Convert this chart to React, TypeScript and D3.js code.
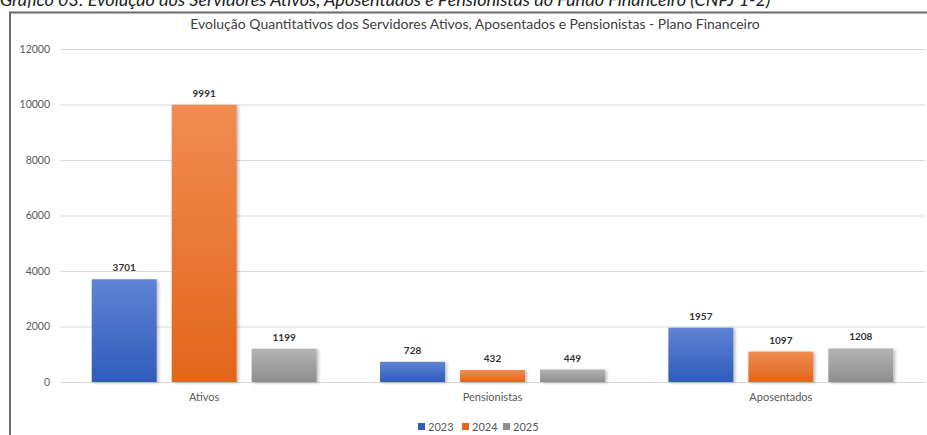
import React, { useEffect, useRef } from 'react';
import * as d3 from 'd3';

const categories = ['Ativos', 'Pensionistas', 'Aposentados'];
const years = ['2023', '2024', '2025'];
const values2023 = [3701, 728, 1957];
const values2024 = [9991, 432, 1097];
const values2025 = [1199, 449, 1208];
const yTicks = [0, 2000, 4000, 6000, 8000, 10000, 12000];

const W = 927;
const H = 435;

export default function App() {
    const svgRef = useRef<SVGSVGElement>(null);

    useEffect(() => {
        const svg = d3.select(svgRef.current);
        svg.selectAll('*').remove();

        const series = [values2023, values2024, values2025];
        const colors = [
            ['#5f83d4', '#2f5cb9'],
            ['#f08c52', '#e2661b'],
            ['#b4b4b4', '#8e8e8e'],
        ];

        const defs = svg.append('defs');
        colors.forEach((c, i) => {
            const g = defs.append('linearGradient')
                .attr('id', `grad${i}`)
                .attr('x1', 0).attr('y1', 0).attr('x2', 0).attr('y2', 1);
            g.append('stop').attr('offset', '0%').attr('stop-color', c[0]);
            g.append('stop').attr('offset', '100%').attr('stop-color', c[1]);
        });
        const shadow = defs.append('filter').attr('id', 'shadow')
            .attr('x', '-10%').attr('y', '-10%').attr('width', '130%').attr('height', '130%');
        shadow.append('feDropShadow')
            .attr('dx', 2).attr('dy', 1).attr('stdDeviation', 1.5)
            .attr('flood-color', '#000').attr('flood-opacity', 0.25);

        svg.append('rect').attr('width', W).attr('height', H).attr('fill', '#fff');

        // caption, cut off at the top of the screenshot as in the source image
        svg.append('text')
            .attr('x', 0).attr('y', 6)
            .attr('font-family', 'Lato, sans-serif')
            .attr('font-size', 18)
            .attr('font-style', 'italic')
            .attr('fill', '#222')
            .text('Gráfico 03: Evolução dos Servidores Ativos, Aposentados e Pensionistas do Fundo Financeiro (CNPJ 1-2)');

        // frame
        svg.append('path')
            .attr('d', `M10,${H} V12.5 H${W}`)
            .attr('fill', 'none')
            .attr('stroke', '#6a6a6a')
            .attr('stroke-width', 2);

        const x0 = d3.scaleBand().domain(categories).range([60, 925])
            .paddingInner(0.22).paddingOuter(0.11);
        const x1 = d3.scaleBand().domain(years).range([0, x0.bandwidth()])
            .paddingInner(0.1875).paddingOuter(0);
        const y = d3.scaleLinear().domain([0, 12000]).range([382, 49]);

        svg.append('text')
            .attr('x', 475).attr('y', 29)
            .attr('text-anchor', 'middle')
            .attr('font-family', 'Lato, sans-serif')
            .attr('font-size', 14)
            .attr('fill', '#404040')
            .text('Evolução Quantitativos dos Servidores Ativos, Aposentados e Pensionistas - Plano Financeiro');

        // grid + y ticks
        const yAxis = d3.axisLeft(y).tickValues(yTicks).tickFormat(d3.format('d'))
            .tickSize(-(925 - 60)).tickPadding(10);
        const ga = svg.append('g').attr('transform', 'translate(60,0)').call(yAxis);
        ga.select('.domain').remove();
        ga.selectAll('.tick line').attr('stroke', '#d9d9d9').attr('stroke-width', 1.2);
        ga.selectAll('.tick text')
            .attr('fill', '#595959')
            .attr('font-size', 10.5)
            .attr('font-family', 'Lato, sans-serif');

        // bars
        const groups = svg.append('g').selectAll('g')
            .data(categories)
            .join('g')
            .attr('transform', d => `translate(${x0(d)},0)`);

        series.forEach((vals, si) => {
            groups.append('rect')
                .attr('x', x1(years[si])!)
                .attr('y', (_, ci) => y(vals[ci]))
                .attr('width', x1.bandwidth())
                .attr('height', (_, ci) => y(0) - y(vals[ci]))
                .attr('fill', `url(#grad${si})`)
                .attr('filter', 'url(#shadow)');
            groups.append('text')
                .attr('x', x1(years[si])! + x1.bandwidth() / 2)
                .attr('y', (_, ci) => y(vals[ci]) - 8)
                .attr('text-anchor', 'middle')
                .attr('font-family', 'Lato, sans-serif')
                .attr('font-weight', 'bold')
                .attr('font-size', 10)
                .attr('fill', '#333')
                .text((_, ci) => String(vals[ci]));
        });

        // category labels
        svg.append('g').selectAll('text')
            .data(categories)
            .join('text')
            .attr('x', d => x0(d)! + x0.bandwidth() / 2)
            .attr('y', 401)
            .attr('text-anchor', 'middle')
            .attr('font-family', 'Lato, sans-serif')
            .attr('font-size', 11)
            .attr('fill', '#595959')
            .text(d => d);

        // legend
        const legendX = [418, 462, 503];
        const leg = svg.append('g').selectAll('g')
            .data(years)
            .join('g')
            .attr('transform', (_, i) => `translate(${legendX[i]},423)`);
        leg.append('rect')
            .attr('width', 7).attr('height', 7)
            .attr('fill', (_, i) => colors[i][1]);
        leg.append('text')
            .attr('x', 10).attr('y', 7.5)
            .attr('font-family', 'Lato, sans-serif')
            .attr('font-size', 11)
            .attr('fill', '#595959')
            .text(d => d);
    }, []);

    return (
        <svg ref={svgRef} width={W} height={H}
            style={{ position: 'absolute', left: 0, top: 0 }} />
    );
}
